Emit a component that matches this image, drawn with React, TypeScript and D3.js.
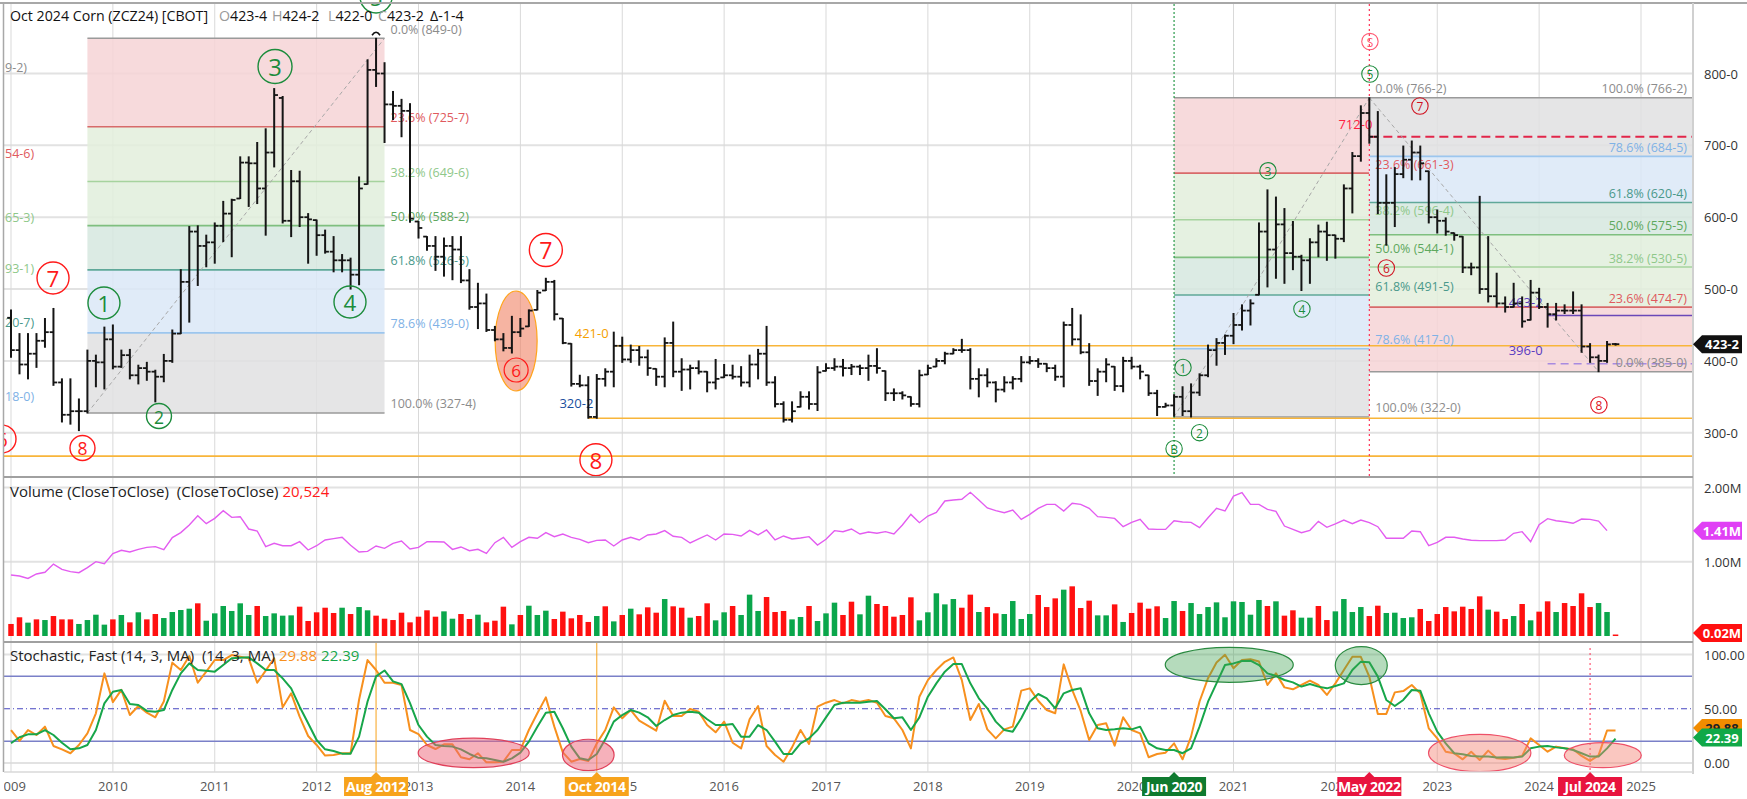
import React from 'react';
import * as d3 from 'd3';

// ---------------- DATA ----------------
const yearLabels = ['2009','2010','2011','2012','2013','2014','2015','2016','2017','2018','2019','2020','2021','2022','2023','2024','2025'];

const opens = [
460,415,395,410,428,440,370,325,330,330,
400,398,430,392,408,380,390,385,378,400,
438,510,580,560,565,588,605,626,676,675,
640,690,766,595,650,600,596,575,552,540,
540,520,646,805,800,757,755,748,594,573,
560,545,560,555,512,475,480,443,430,418,
440,448,471,498,510,459,424,368,366,322,
375,385,421,402,415,405,389,378,425,385,
388,390,385,370,377,380,378,370,395,410,
370,340,318,336,350,340,386,390,392,390,
392,390,393,386,355,355,350,340,381,392,
400,410,415,415,375,380,370,360,370,375,
398,400,396,390,378,450,430,412,372,385,
392,365,400,392,380,355,336,338,350,330,
356,380,415,425,435,450,470,492,580,555,
590,550,545,540,565,580,575,570,640,685,
745,712,620,620,660,680,690,664,600,595,
578,573,530,530,500,490,480,475,480,457,
495,475,465,470,470,470,420,405,400,423.5];

const highs = [
471,438,438,438,459,473,375,375,347,415,
408,447,450,415,416,394,398,387,409,443,
527,587,588,575,592,622,625,684,684,704,
723,779,768,665,664,605,596,582,573,548,
543,656,819,849,815,775,764,758,594,573,
573,571,573,573,527,508,493,448,438,462,
459,471,498,515,512,459,424,380,378,381,
389,440,433,422,420,415,389,432,454,403,
394,400,385,402,395,394,392,408,416,448,
378,343,343,357,357,392,396,403,402,395,
394,408,417,386,361,357,350,387,394,403,
412,417,430,417,389,389,371,378,378,406,
406,403,396,394,454,473,464,424,389,403,
392,405,405,394,380,359,341,353,364,368,
382,422,431,436,466,478,485,592,638,628,
612,594,547,570,589,593,575,645,690,755,
766.25,747,659,669,699,706,699,664,610,599,
578,573,536,629,573,522,489,508,489,512,
501,480,480,478,496,478,424,408,427,424.25];

const lows = [
405,382,375,391,419,366,315,312,303,327.5,
364,361,389,391,375,368,373,343,371,398,
438,454,505,531,536,566,545,626,615,619,
575,670,592,573,587,536,547,550,524,524,
500,506,646,782,704,736,712,593,571,554,
526,518,513,509,472,445,441,428,414,411,
434,448,471,498,457,424,365,364,320.25,320.25,
365,364,398,398,394,380,366,364,378,359,
361,382,357,361,377,375,365,364,375,366,
336,315,315,336,333,331,386,387,379,381,
381,373,383,345,345,347,337,336,381,392,
396,410,412,361,350,364,343,357,361,371,
396,391,385,373,364,422,410,366,352,371,
359,357,389,375,352,324,336,323,324,322,
352,378,394,409,424,443,450,492,503,515,
508,527,498,508,545,540,543,566,606,678,
703,605,561,587,655,652,652,592,578,575,
568,523,520,494,482,475,468,475,447,457,
473,447,457,466,466,412,398,385,398,422];

const closes = [
415,395,410,428,440,370,325,330,330,400,
398,430,392,408,380,390,385,378,400,438,
510,580,560,565,588,605,624,676,675,640,
690,770,595,650,600,597,575,552,540,540,
520,640,805,800,757,755,748,598,585,560,
545,560,555,512,475,480,443,430,418,440,
445,470,495,510,465,425,368,366,322,375,
385,421,402,415,405,390,378,425,385,388,
390,385,370,375,380,378,370,395,410,370,
340,318,330,350,340,384,390,392,390,392,
390,393,390,355,355,352,340,380,390,400,
410,415,415,375,380,370,360,370,375,398,
400,396,390,378,450,430,412,372,385,395,
365,400,392,385,355,336,338,350,330,356,
380,415,425,435,450,470,480,580,555,590,
550,545,540,565,580,575,570,640,685,745,
712,620,620,660,680,690,675,600,595,580,
575,530,530,500,490,480,475,480,455,495,
475,465,470,470,470,420,405,400,423,423.25];

// volume in millions
const volumes = [
0.162,0.252,0.18,0.224,0.215,0.269,0.224,0.224,0.162,0.215,
0.287,0.153,0.224,0.283,0.184,0.319,0.224,0.296,0.242,0.323,
0.35,0.368,0.44,0.206,0.305,0.404,0.337,0.44,0.283,0.404,
0.269,0.305,0.274,0.278,0.395,0.202,0.319,0.381,0.31,0.381,
0.296,0.39,0.346,0.274,0.233,0.215,0.314,0.184,0.26,0.346,
0.26,0.332,0.233,0.296,0.229,0.287,0.184,0.206,0.395,0.157,
0.283,0.408,0.283,0.341,0.229,0.328,0.238,0.283,0.189,0.269,
0.4,0.197,0.283,0.368,0.292,0.386,0.314,0.498,0.4,0.381,
0.247,0.269,0.44,0.211,0.319,0.404,0.283,0.557,0.337,0.525,
0.323,0.337,0.224,0.256,0.404,0.202,0.305,0.449,0.283,0.462,
0.292,0.543,0.431,0.404,0.26,0.283,0.521,0.211,0.319,0.575,
0.426,0.498,0.381,0.557,0.323,0.39,0.305,0.296,0.471,0.229,
0.296,0.552,0.39,0.507,0.624,0.669,0.377,0.476,0.278,0.278,
0.426,0.189,0.31,0.449,0.368,0.4,0.242,0.471,0.337,0.444,
0.296,0.39,0.453,0.252,0.467,0.458,0.287,0.485,0.404,0.467,
0.274,0.346,0.247,0.247,0.404,0.215,0.332,0.498,0.323,0.39,
0.269,0.408,0.31,0.314,0.242,0.252,0.364,0.202,0.296,0.39,
0.332,0.395,0.364,0.534,0.355,0.328,0.229,0.269,0.431,0.211,
0.328,0.467,0.323,0.444,0.404,0.575,0.39,0.444,0.323,0.02];

const volColors =
'rrgrgrrrgg'+'ggrgrgrrgg'+'ggrggggggr'+'ggggrrrrrg'+'rggrrrrrrr'+
'rggrrgrrrg'+'rgggrrrrrg'+'rgrgrrrgrr'+'grrggrgggr'+'rrggrgggrr'+
'ggrrrrrggg'+'ggrrgrrggg'+'grrrgrrrgg'+'rgrrrrggrg'+'ggggggggrg'+
'rrggrrgggg'+'rrggggrrrr'+'rrrrgrrgrg'+'rrgrrrrggr';

// CloseToClose line (millions)
const volLine = [
0.822,0.808,0.776,0.835,0.858,0.969,0.898,0.867,0.853,0.92,
1.001,0.974,1.109,1.154,1.131,1.167,1.194,1.203,1.163,1.325,
1.392,1.495,1.62,1.513,1.584,1.688,1.598,1.607,1.441,1.414,
1.203,1.248,1.216,1.216,1.27,1.158,1.216,1.293,1.311,1.329,
1.221,1.131,1.14,1.212,1.181,1.248,1.279,1.172,1.194,1.27,
1.27,1.266,1.167,1.199,1.149,1.167,1.113,1.257,1.329,1.194,
1.27,1.329,1.316,1.392,1.338,1.374,1.329,1.302,1.257,1.288,
1.293,1.212,1.293,1.329,1.293,1.361,1.374,1.419,1.343,1.329,
1.253,1.307,1.361,1.293,1.374,1.369,1.347,1.423,1.361,1.428,
1.293,1.347,1.307,1.32,1.338,1.225,1.302,1.419,1.405,1.441,
1.374,1.401,1.383,1.405,1.374,1.495,1.638,1.526,1.616,1.665,
1.818,1.832,1.841,1.935,1.832,1.724,1.688,1.661,1.697,1.571,
1.638,1.719,1.773,1.773,1.683,1.787,1.773,1.719,1.607,1.598,
1.584,1.472,1.531,1.571,1.441,1.436,1.436,1.553,1.535,1.531,
1.459,1.593,1.719,1.683,1.885,1.93,1.773,1.773,1.706,1.679,
1.481,1.436,1.392,1.423,1.544,1.464,1.509,1.562,1.513,1.562,
1.526,1.472,1.316,1.316,1.316,1.414,1.405,1.217,1.261,1.329,
1.329,1.307,1.289,1.284,1.284,1.284,1.293,1.383,1.405,1.27,
1.5,1.58,1.553,1.539,1.518,1.575,1.571,1.548,1.419];

const stochK = [
30.4,20.3,30.4,25.8,33.5,15.7,12.6,9.0,16.6,27.3,
45.8,82.6,56.1,67.4,44.2,52.5,46.4,42.1,56.7,92.5,
85.7,98.6,74.0,84.2,94.9,94.9,99.5,98.0,96.5,74.0,
85.1,96.5,51.3,64.2,42.7,24.9,16.6,6.8,7.4,9.0,
9.0,58.3,94.9,85.7,74.0,74.0,71.9,30.4,26.7,16.6,
12.9,17.2,17.2,5.3,3.4,9.0,0.6,0.6,1.2,12.0,
12.0,30.4,45.8,60.5,33.5,9.8,1.2,3.7,1.8,18.1,
30.4,51.3,41.2,48.8,39.0,34.4,29.8,57.4,43.3,43.3,
49.8,47.3,35.0,28.3,38.1,18.7,13.5,40.3,52.5,15.7,
7.4,1.2,14.4,30.4,17.5,51.9,55.6,58.0,55.0,58.0,
56.5,58.0,55.6,43.3,41.2,30.4,13.5,61.1,76.4,85.7,
93.3,97.3,76.4,39.6,54.4,31.0,22.7,31.0,33.5,66.7,
68.8,57.4,48.8,45.8,90.9,67.3,48.0,21.2,35.0,36.6,
16.0,42.1,30.4,27.3,5.3,8.3,9.5,18.1,3.4,24.3,
56.7,78.2,92.6,99.7,87.3,95.0,95.6,93.5,71.9,82.6,
69.7,67.9,71.9,75.9,71.9,62.7,73.4,85.7,97.9,97.9,
79.5,45.2,45.2,65.1,66.3,71.9,64.2,31.9,22.7,10.4,
8.9,3.4,10.4,2.8,11.4,4.3,3.7,4.9,6.5,22.7,
16.6,10.4,15.1,13.5,12.6,6.5,1.9,7.0,30.0,29.88];

const stochD = [
18.2,23.7,26.4,26.4,30.4,25.8,18.7,12.6,13.5,16.6,
30.4,55.0,65.7,67.3,54.4,53.5,48.0,47.3,48.8,67.3,
82.6,91.8,85.7,85.1,84.2,90.3,96.5,97.1,97.4,91.8,
85.7,85.7,78.0,68.8,51.9,36.6,21.2,12.6,11.1,8.6,
8.6,24.3,56.7,79.8,85.3,75.2,72.7,55.2,35.0,24.3,
16.6,15.7,15.1,12.6,8.3,4.9,4.3,2.8,1.2,4.3,
9.5,19.7,33.5,46.4,47.3,32.0,15.1,4.3,2.8,8.3,
21.8,38.1,44.2,48.8,46.4,42.1,34.1,39.6,44.2,46.4,
47.3,46.4,40.3,35.0,35.0,35.9,24.3,24.3,35.0,30.4,
19.7,8.3,8.3,18.1,22.7,30.4,42.1,53.5,55.6,55.6,
55.6,56.5,57.1,49.5,41.2,42.1,30.4,42.1,61.1,73.4,
84.2,91.2,91.2,73.4,59.6,50.4,38.1,30.4,28.9,41.2,
56.5,63.6,59.6,50.4,64.2,67.3,68.8,45.8,32.0,30.4,
31.0,32.0,31.0,33.5,18.1,13.5,12.0,12.0,9.0,13.5,
33.5,56.5,73.4,90.3,91.8,94.0,94.3,90.3,82.6,80.2,
76.5,74.3,70.4,72.8,70.4,68.8,71.0,73.4,85.7,93.4,
92.8,79.6,58.1,52.5,58.1,67.3,66.7,45.8,28.9,18.1,
9.0,8.0,6.5,5.9,5.9,5.0,5.3,5.0,5.9,13.5,
15.1,15.7,14.4,13.5,12.0,9.0,5.9,5.9,13.5,22.39];

const priceTicks = [300, 400, 500, 600, 700, 800];
const priceTickLabels = ['300-0', '400-0', '500-0', '600-0', '700-0', '800-0'];
const volTicks = [1, 2];
const volTickLabels = ['1.00M', '2.00M'];
const stochTicks = [0, 50, 100];
const stochTickLabels = ['0.00', '50.00', '100.00'];

// Fibonacci retracements
const fibPcts = ['0.0%', '23.6%', '38.2%', '50.0%', '61.8%', '78.6%', '100.0%'];
const fibAPrices = [849, 725.875, 649.75, 588.25, 526.625, 439, 327.5];
const fibALabels = ['849-0', '725-7', '649-6', '588-2', '526-5', '439-0', '327-4'];
const fibBPrices = [766.25, 661.375, 596.5, 544.125, 491.625, 417, 322];
const fibBLabels = ['766-2', '661-3', '596-4', '544-1', '491-5', '417-0', '322-0'];
const fibCPcts = ['100.0%', '78.6%', '61.8%', '50.0%', '38.2%', '23.6%', '0.0%'];
const fibCPrices = [766.25, 684.625, 620.5, 575.625, 530.625, 474.875, 385];
const fibCLabels = ['766-2', '684-5', '620-4', '575-5', '530-5', '474-7', '385-0'];

// ---------------- STYLE ----------------
const FONT = '"Open Sans", "Noto Sans", sans-serif';
const PL = 4, PR = 1693;
const P_TOP = 4, P_BOT = 476;
const V_TOP = 478, V_BOT = 641;
const S_TOP = 643, S_BOT = 772;
const GREEN = '#1c8c3c';
const RED = '#ff1a1a';
const DRED = '#d0101e';

const pctStyle: Record<string, { line: string; text: string }> = {
  '0.0%': { line: '#9a9a9a', text: '#8c8c8c' },
  '100.0%': { line: '#9a9a9a', text: '#8c8c8c' },
  '23.6%': { line: '#d86a6a', text: '#e05a5e' },
  '38.2%': { line: '#a6d39e', text: '#8fc88a' },
  '50.0%': { line: '#7fbf7f', text: '#5ea85e' },
  '61.8%': { line: '#5fa899', text: '#4a998b' },
  '78.6%': { line: '#9cc6ee', text: '#7fb2e6' },
};
const zoneFill = (a: string, b: string) => {
  const m = Math.max(parseFloat(a), parseFloat(b));
  if (m <= 23.6) return '#f6d3d6';
  if (m <= 38.2) return '#e3efdc';
  if (m <= 50) return '#e1eedc';
  if (m <= 61.8) return '#d6e8df';
  if (m <= 78.6) return '#dbe8f7';
  return '#e0e0e2';
};

// ---------------- SCALES ----------------
const x = d3.scaleLinear().domain([0, 192]).range([11, 1641]);
const yP = d3.scaleLinear().domain([300, 800]).range([432.75, 73.5]);
const yV = d3.scaleLinear().domain([0, 2]).range([636, 487.5]);
const yS = d3.scaleLinear().domain([0, 100]).range([763, 654.5]);

// annotations (month index, price)
const bigAnn = [
  { i: 4.95, p: 515.4, t: '7', c: RED, r: 16 },
  { i: 10.95, p: 480.6, t: '1', c: GREEN, r: 16 },
  { i: 17.43, p: 323.3, t: '2', c: GREEN, r: 12.5 },
  { i: 31.1, p: 809.7, t: '3', c: GREEN, r: 17 },
  { i: 39.93, p: 482, t: '4', c: GREEN, r: 16 },
  { i: 43, p: 906.5, t: '5', c: GREEN, r: 16 },
  { i: 8.42, p: 278.8, t: '8', c: RED, r: 12.5 },
  { i: -1.06, p: 291.3, t: '6', c: RED, r: 14 },
  { i: 63.0, p: 554.4, t: '7', c: RED, r: 16.5 },
  { i: 68.9, p: 262.5, t: '8', c: RED, r: 16 },
];
const smallAnn = [
  { i: 160.07, p: 799.3, t: '5', c: GREEN },
  { i: 160.07, p: 844.5, t: 'S', c: '#ff5a72' },
  { i: 148.06, p: 664.6, t: '3', c: GREEN },
  { i: 165.96, p: 754.8, t: '7', c: DRED },
  { i: 162.0, p: 529.3, t: '6', c: DRED },
  { i: 152.06, p: 472.2, t: '4', c: GREEN },
  { i: 138.05, p: 390.8, t: '1', c: GREEN },
  { i: 140.0, p: 300.1, t: '2', c: GREEN },
  { i: 137.0, p: 277.8, t: 'B', c: GREEN },
  { i: 187.04, p: 338.6, t: '8', c: '#e01020' },
];
const stochEllipses = [
  { i: 54.5, v: 9.3, rx: 55.5, ry: 14.7, fill: 'rgba(238,100,120,0.5)', stroke: '#e0405a' },
  { i: 68.0, v: 7.4, rx: 25.8, ry: 15.7, fill: 'rgba(238,100,120,0.5)', stroke: '#e0405a' },
  { i: 143.5, v: 90.5, rx: 64, ry: 17.5, fill: 'rgba(60,160,80,0.38)', stroke: '#2a8a40' },
  { i: 159.05, v: 89.8, rx: 26, ry: 19, fill: 'rgba(60,160,80,0.38)', stroke: '#2a8a40' },
  { i: 173.0, v: 9.2, rx: 51.2, ry: 18.7, fill: 'rgba(245,130,115,0.45)', stroke: '#ee5068' },
  { i: 187.5, v: 7.2, rx: 38.5, ry: 12.5, fill: 'rgba(245,130,115,0.45)', stroke: '#ee5068' },
];
const dateTags = [
  { i: 43, t: 'Aug 2012', bg: '#f7a31c' },
  { i: 69, t: 'Oct 2014', bg: '#f7a31c' },
  { i: 137, t: 'Jun 2020', bg: '#0f7a2f' },
  { i: 160, t: 'May 2022', bg: '#e8143e' },
  { i: 186, t: 'Jul 2024', bg: '#e8143e' },
];
const leftFragments = [
  { p: 809, t: '9-2)', c: '#8c8c8c' },
  { p: 688, t: '54-6)', c: '#e05a5e' },
  { p: 599, t: '65-3)', c: '#8fc88a' },
  { p: 528, t: '93-1)', c: '#8fc88a' },
  { p: 454, t: '20-7)', c: '#4a998b' },
  { p: 351, t: '18-0)', c: '#7fb2e6' },
];

const CircNum = ({ cx, cy, r, t, c, fs, sw }: any) => (
  <g>
    <circle cx={cx} cy={cy} r={r} fill="none" stroke={c} strokeWidth={sw} />
    <text x={cx} y={cy + 0.5} textAnchor="middle" dominantBaseline="central" fontSize={fs} fill={c} fontFamily={FONT}>{t}</text>
  </g>
);

const Tag = ({ y, text, bg, fg = '#fff' }: any) => (
  <g>
    <path d={`M${PR},${y} L${PR + 9},${y - 9} L1742,${y - 9} L1742,${y + 9} L${PR + 9},${y + 9} Z`} fill={bg} />
    <text x={1722} y={y} textAnchor="middle" dominantBaseline="central" fontSize={13} fontWeight={700} fill={fg} fontFamily={FONT}>{text}</text>
  </g>
);

function FibBlock({ i0, xEnd, prices, pcts }: any) {
  const x0 = x(i0);
  const x1 = xEnd;
  return (
    <g>
      {prices.slice(0, -1).map((p: number, k: number) => (
        <rect key={'z' + k} x={x0} width={x1 - x0} y={yP(Math.max(p, prices[k + 1]))}
          height={Math.abs(yP(prices[k + 1]) - yP(p))} fill={zoneFill(pcts[k], pcts[k + 1])} fillOpacity={0.85} />
      ))}
      {prices.map((p: number, k: number) => (
        <line key={'l' + k} x1={x0} x2={x1} y1={yP(p)} y2={yP(p)} stroke={pctStyle[pcts[k]].line} strokeWidth={1.6} />
      ))}
    </g>
  );
}

function FibLabels({ xPos, prices, pcts, labels, anchor }: any) {
  return (
    <g>
      {prices.map((p: number, k: number) => (
        <text key={k} x={xPos} y={yP(p) - 9} textAnchor={anchor} dominantBaseline="central" fontSize={12.5}
          fill={pctStyle[pcts[k]].text} fontFamily={FONT}>{`${pcts[k]} (${labels[k]})`}</text>
      ))}
    </g>
  );
}

export default function App() {
  const kLine = d3.line<number>().x((_, i) => x(i)).y((v) => yS(v));
  const vLine = d3.line<number>().x((_, i) => x(i)).y((v) => yV(v));
  const yearIdx = yearLabels.map((_, k) => k * 12);

  return (
    <svg width={1747} height={799} style={{ position: 'absolute', left: 0, top: 0, background: '#fff' }}
      fontFamily={FONT}>
      <defs>
        <clipPath id="cp-price"><rect x={PL} y={P_TOP} width={PR - PL} height={P_BOT - P_TOP} /></clipPath>
        <clipPath id="cp-price-ann"><rect x={PL} y={0} width={PR - PL} height={P_BOT} /></clipPath>
        <clipPath id="cp-vol"><rect x={PL} y={V_TOP} width={PR - PL} height={V_BOT - V_TOP} /></clipPath>
        <clipPath id="cp-sto"><rect x={PL} y={S_TOP} width={PR - PL} height={S_BOT - S_TOP} /></clipPath>
        <clipPath id="cp-x"><rect x={PL} y={S_BOT} width={1747 - PL} height={799 - S_BOT} /></clipPath>
      </defs>
      <rect x={0} y={0} width={1747} height={799} fill="#fff" />

      {/* horizontal gridlines */}
      {priceTicks.map((p) => (
        <line key={'pg' + p} x1={PL} x2={PR} y1={yP(p)} y2={yP(p)} stroke="#e2e2e2" strokeWidth={2} />
      ))}
      {volTicks.map((v) => (
        <line key={'vg' + v} x1={PL} x2={PR} y1={yV(v)} y2={yV(v)} stroke="#e2e2e2" strokeWidth={2} />
      ))}
      {[0, 100].map((v) => (
        <line key={'sg' + v} x1={PL} x2={PR} y1={yS(v)} y2={yS(v)} stroke="#e2e2e2" strokeWidth={2} />
      ))}
      {/* vertical year gridlines */}
      {yearIdx.map((i) => (
        <line key={'yg' + i} x1={x(i)} x2={x(i)} y1={P_TOP} y2={S_BOT} stroke="#d9d9d9" strokeWidth={1} />
      ))}

      {/* ---------- PRICE PANEL ---------- */}
      <g clipPath="url(#cp-price)">
        <FibBlock i0={9} xEnd={x(44)} prices={fibAPrices} pcts={fibPcts} />
        <FibBlock i0={137} xEnd={x(160)} prices={fibBPrices} pcts={fibPcts} />
        <FibBlock i0={160} xEnd={PR} prices={fibCPrices} pcts={fibCPcts} />

        {/* horizontal support/resistance */}
        <line x1={PL} x2={PR} y1={yP(267.5)} y2={yP(267.5)} stroke="#f8b53a" strokeWidth={1.6} />
        <line x1={x(71)} x2={PR} y1={yP(421)} y2={yP(421)} stroke="#f8b53a" strokeWidth={1.6} />
        <line x1={x(68)} x2={PR} y1={yP(320.25)} y2={yP(320.25)} stroke="#f8b53a" strokeWidth={1.6} />
        <line x1={x(160)} x2={PR} y1={yP(712)} y2={yP(712)} stroke="#e2264a" strokeWidth={2} strokeDasharray="9,5" />
        <line x1={x(181)} x2={PR} y1={yP(463.25)} y2={yP(463.25)} stroke="#6a48b8" strokeWidth={1.4} />
        <line x1={x(181)} x2={PR} y1={yP(396)} y2={yP(396)} stroke="#a88ae0" strokeWidth={1.6} strokeDasharray="8,5" />

        {/* diagonals */}
        <line x1={x(9)} y1={yP(327.5)} x2={x(44)} y2={yP(849)} stroke="#a8a8a8" strokeWidth={1} strokeDasharray="4,3" />
        <line x1={x(137)} y1={yP(322)} x2={x(160)} y2={yP(766.25)} stroke="#a8a8a8" strokeWidth={1} strokeDasharray="4,3" />
        <line x1={x(160)} y1={yP(766.25)} x2={x(187)} y2={yP(385)} stroke="#a8a8a8" strokeWidth={1} strokeDasharray="4,3" />

        {/* vertical event lines */}
        <line x1={x(137)} x2={x(137)} y1={P_TOP} y2={P_BOT} stroke="#2a9a4a" strokeWidth={1.2} strokeDasharray="2,2" />
        <line x1={x(160)} x2={x(160)} y1={P_TOP} y2={P_BOT} stroke="#ff3355" strokeWidth={1.2} strokeDasharray="2,3" />

        {/* orange ellipse */}
        <ellipse cx={x(59.5)} cy={yP(427.7)} rx={21} ry={50} fill="rgba(240,130,100,0.6)" stroke="#ffa31a" strokeWidth={1.2} />

        {/* left-cut fib labels */}
        {leftFragments.map((f, k) => (
          <text key={'lf' + k} x={5} y={yP(f.p)} dominantBaseline="central" fontSize={12.5} fill={f.c}>{f.t}</text>
        ))}

        {/* fib labels (under bars) */}
        <FibLabels xPos={x(44) + 6} prices={fibAPrices} pcts={fibPcts} labels={fibALabels} anchor="start" />
        <FibLabels xPos={x(160) + 6} prices={fibBPrices} pcts={fibPcts} labels={fibBLabels} anchor="start" />
        <FibLabels xPos={PR - 6} prices={fibCPrices} pcts={fibCPcts} labels={fibCLabels} anchor="end" />

        {/* level labels */}
        <text x={x(68.4)} y={yP(421) - 13} textAnchor="middle" dominantBaseline="central" fontSize={13} fill="#f5a000">421-0</text>
        <text x={x(66.6)} y={yP(320.25) - 15} textAnchor="middle" dominantBaseline="central" fontSize={13} fill="#1a4f9e">320-2</text>
        <text x={x(160) + 3} y={yP(712) - 13} textAnchor="end" dominantBaseline="central" fontSize={13} fill="#ff2040">712-0</text>
        <text x={x(181) - 5} y={yP(463.25) - 13} textAnchor="end" dominantBaseline="central" fontSize={13} fill="#5a3cc0">463-2</text>
        <text x={x(181) - 5} y={yP(396) - 14} textAnchor="end" dominantBaseline="central" fontSize={13} fill="#5a3cc0">396-0</text>

        {/* OHLC bars */}
        {highs.map((h, i) => {
          const cx = x(i);
          return (
            <g key={'b' + i} stroke="#151515">
              <line x1={cx} x2={cx} y1={yP(h) - 0.5} y2={yP(lows[i]) + 0.5} strokeWidth={2} />
              <line x1={cx - 3.8} x2={cx} y1={yP(opens[i])} y2={yP(opens[i])} strokeWidth={1.8} />
              <line x1={cx} x2={cx + 3.8} y1={yP(closes[i])} y2={yP(closes[i])} strokeWidth={1.8} />
            </g>
          );
        })}

        {/* peak marker */}
        <path d={`M${x(43) - 4},${yP(849) - 3} Q${x(43)},${yP(849) - 9} ${x(43) + 4},${yP(849) - 3}`} fill="none" stroke="#111" strokeWidth={1.6} />

        {/* small circled annotations */}
        {smallAnn.map((a, k) => (
          <CircNum key={'sa' + k} cx={x(a.i)} cy={yP(a.p)} r={8.2} t={a.t} c={a.c} fs={12} sw={1.1} />
        ))}
        <CircNum cx={x(59.5)} cy={yP(387.3)} r={12} t="6" c={RED} fs={17} sw={1.2} />
      </g>

      <g clipPath="url(#cp-price-ann)">
        {bigAnn.map((a, k) => (
          <CircNum key={'ba' + k} cx={x(a.i)} cy={yP(a.p)} r={a.r} t={a.t} c={a.c} fs={a.r * 1.4} sw={1.4} />
        ))}
      </g>

      {/* header */}
      <text x={10} y={20.5} fontSize={14.2} fill="#111">
        <tspan>Oct 2024 Corn (ZCZ24) [CBOT]</tspan>
        <tspan x={219} fill="#9a9a9a">O</tspan><tspan fill="#111">423-4</tspan>
        <tspan x={272} fill="#9a9a9a">H</tspan><tspan fill="#111">424-2</tspan>
        <tspan x={328} fill="#9a9a9a">L</tspan><tspan fill="#111">422-0</tspan>
        <tspan x={378} fill="#9a9a9a">C</tspan><tspan fill="#111">423-2</tspan>
        <tspan x={430} fill="#111">Δ-1-4</tspan>
      </text>

      {/* ---------- VOLUME PANEL ---------- */}
      <g clipPath="url(#cp-vol)">
        {volumes.map((v, i) => (
          <rect key={'v' + i} x={x(i) - 2.75} width={5.5} y={yV(v)} height={Math.max(1.5, yV(0) - yV(v))}
            fill={volColors[i] === 'g' ? '#0aa64b' : '#ff1010'} />
        ))}
        <path d={vLine(volLine) || ''} fill="none" stroke="#e35cf0" strokeWidth={1.4} />
      </g>
      <text x={10} y={497} fontSize={15} fill="#222" style={{ whiteSpace: 'pre' }}>
        {'Volume (CloseToClose)  (CloseToClose) '}<tspan fill="#ff1a1a">20,524</tspan>
      </text>

      {/* ---------- STOCHASTIC PANEL ---------- */}
      <g clipPath="url(#cp-sto)">
        <line x1={PL} x2={PR} y1={yS(80)} y2={yS(80)} stroke="#7a80c8" strokeWidth={1.6} />
        <line x1={PL} x2={PR} y1={yS(20)} y2={yS(20)} stroke="#7a80c8" strokeWidth={1.6} />
        <line x1={PL} x2={PR} y1={yS(50)} y2={yS(50)} stroke="#4646c0" strokeWidth={1} strokeDasharray="6,3,1,3" />
        <line x1={x(43)} x2={x(43)} y1={S_TOP} y2={S_BOT} stroke="#f7a31c" strokeWidth={1} />
        <line x1={x(69)} x2={x(69)} y1={S_TOP} y2={S_BOT} stroke="#f7a31c" strokeWidth={1} />
        <line x1={x(186)} x2={x(186)} y1={S_TOP + 5} y2={S_BOT} stroke="#ff3355" strokeWidth={1} strokeDasharray="2,3" />
        <path d={kLine(stochK) || ''} fill="none" stroke="#f7901e" strokeWidth={2} strokeLinejoin="round" />
        <path d={kLine(stochD) || ''} fill="none" stroke="#17a64a" strokeWidth={2} strokeLinejoin="round" />
        {stochEllipses.map((e, k) => (
          <ellipse key={'se' + k} cx={x(e.i)} cy={yS(e.v)} rx={e.rx} ry={e.ry} fill={e.fill} stroke={e.stroke} strokeWidth={1.2} />
        ))}
      </g>
      <text x={10} y={661} fontSize={15} fill="#222" style={{ whiteSpace: 'pre' }}>
        {'Stochastic, Fast (14, 3, MA)  (14, 3, MA) '}<tspan fill="#f7901e">29.88</tspan>{' '}<tspan fill="#17a64a">22.39</tspan>
      </text>

      {/* separators / borders */}
      <line x1={0} x2={1747} y1={3} y2={3} stroke="#a8a8a8" strokeWidth={2} />
      <line x1={3.5} x2={3.5} y1={3} y2={S_BOT} stroke="#a8a8a8" strokeWidth={1.5} />
      <line x1={PR} x2={PR} y1={3} y2={S_BOT + 2} stroke="#d0d0d0" strokeWidth={2} />
      <line x1={PL} x2={PR} y1={477} y2={477} stroke="#a0a0a0" strokeWidth={2} />
      <line x1={PL} x2={PR} y1={642} y2={642} stroke="#a0a0a0" strokeWidth={2} />
      <line x1={PL} x2={PR} y1={S_BOT} y2={S_BOT} stroke="#d8d8d8" strokeWidth={1.5} />

      {/* right axes */}
      {priceTicks.map((p, k) => (
        <text key={'pt' + p} x={1704} y={yP(p)} dominantBaseline="central" fontSize={13} fill="#333">{priceTickLabels[k]}</text>
      ))}
      {volTicks.map((v, k) => (
        <text key={'vt' + v} x={1704} y={yV(v)} dominantBaseline="central" fontSize={13} fill="#333">{volTickLabels[k]}</text>
      ))}
      {stochTicks.map((v, k) => (
        <text key={'st' + v} x={1704} y={yS(v)} dominantBaseline="central" fontSize={13} fill="#333">{stochTickLabels[k]}</text>
      ))}
      <Tag y={yP(423.25)} text="423-2" bg="#111" />
      <Tag y={yV(1.419)} text="1.41M" bg="#e040f5" />
      <Tag y={633} text="0.02M" bg="#ff1010" />
      <Tag y={yS(32.2)} text="29.88" bg="#f28c00" fg="#222" />
      <Tag y={yS(23.5)} text="22.39" bg="#10a848" />

      {/* x axis */}
      <g clipPath="url(#cp-x)">
        {yearIdx.map((i, k) => (
          <text key={'xl' + k} x={x(i)} y={791} textAnchor="middle" fontSize={13} fill="#555">{yearLabels[k]}</text>
        ))}
        {dateTags.map((d, k) => {
          const cx = x(d.i);
          return (
            <g key={'dt' + k}>
              <path d={`M${cx - 5},777 L${cx},772 L${cx + 5},777 Z`} fill={d.bg} />
              <rect x={cx - 32} y={777} width={64} height={19} fill={d.bg} />
              <text x={cx} y={786.5} textAnchor="middle" dominantBaseline="central" fontSize={14} fontWeight={700}
                fill="#fff" letterSpacing={-0.3}>{d.t}</text>
            </g>
          );
        })}
      </g>
    </svg>
  );
}
